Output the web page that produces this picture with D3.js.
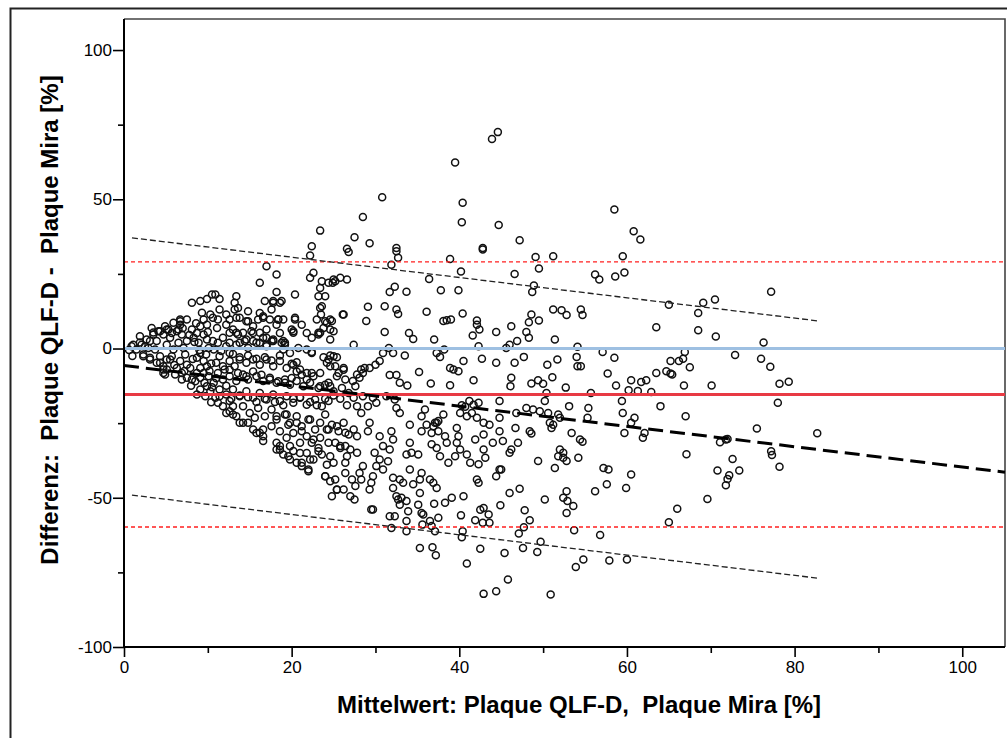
<!DOCTYPE html>
<html>
<head>
<meta charset="utf-8">
<script src="https://cdn.jsdelivr.net/npm/d3@7/dist/d3.min.js"></script>
<style>
  body { margin: 0; background: #fff; }
  text { font-family: "Liberation Sans", Arial, sans-serif; fill: #000; }
</style>
</head>
<body>
<div id="chart"></div>
<script>
// [mean, difference] pairs
var upperPts = [[44.6,72.5],[43.9,70.2],[39.5,62.3],[30.8,50.7],[40.4,48.8],[40.3,42.3],[44.7,41.4],[28.5,44.1],
  [27.5,37.3],[29.3,35.3],[32.5,33.7],[42.8,33.7],[47.2,36.3],[58.5,46.6],[60.8,39.3],[61.6,36.5],[26.6,33.4],
  [23.4,39.5],[22.4,34.3]];

var rightPts = [[65.0,14.7],[69.1,15.3],[70.5,16.4],[68.5,11.9],[77.2,19.0],[68.5,6.1],[70.6,4.0],[76.3,2.0],
  [66.9,-1.2],[72.9,-2.2],[76.0,-3.4],[77.1,-6.1],[65.2,-4.2],[66.2,-4.2],[66.7,-3.4],[67.5,-6.3],[65.2,-8.4],
  [65.4,-8.7],[66.8,-12.4],[70.1,-12.4],[78.2,-11.8],[79.3,-11.1],[78.0,-18.2],[67.0,-22.7],[75.5,-26.8],
  [82.7,-28.4],[71.1,-31.4],[72.0,-30.3],[71.8,-30.5],[77.2,-34.4],[77.3,-35.7],[67.1,-35.4],[72.6,-37.0],
  [70.8,-40.9],[73.4,-40.9],[72.2,-42.5],[72.0,-43.7],[71.8,-45.8],[78.2,-39.6],[69.6,-50.4],[66.0,-53.7],[65.0,-58.2]];

var midPts = [[26.8,32.3],[32.7,30.4],[32.5,32.6],[31.9,28.1],[38.9,30.0],[49.1,30.7],[51.2,30.9],[59.5,30.9],[42.8,33.2],
  [25.0,23.1],[25.8,23.7],[26.6,23.1],[24.9,22.0],[36.4,23.3],[40.2,25.8],[46.6,25.0],[49.5,26.8],[56.2,24.8],[56.7,23.1],
  [58.6,24.1],[59.7,25.5],[48.9,21.1],[48.7,18.9],[32.3,20.7],[31.7,18.9],[33.7,19.0],[37.8,19.5],[39.9,19.5],
  [29.1,14.0],[28.9,9.2],[26.1,11.4],[24.8,9.2],[31.1,14.2],[32.5,13.1],[32.7,11.6],[36.1,12.3],[40.4,11.7],
  [38.1,9.2],[38.5,9.5],[39.0,9.7],[42.1,9.4],[42.1,8.0],[42.4,6.4],[34.0,5.2],[34.5,3.2],[31.1,5.5],[41.6,4.4],
  [37.0,3.0],[44.4,5.5],[46.2,7.5],[48.0,5.5],[48.3,3.6],[48.6,11.4],[48.3,8.8],[49.5,9.4],[51.2,13.1],[52.2,12.8],
  [52.8,11.2],[54.5,13.1],[54.7,11.2],[46.9,2.5],[51.4,3.0],[63.5,7.1],
  [27.4,1.3],[31.6,0.2],[30.9,-1.5],[32.1,-1.5],[25.0,-2.6],[24.6,-5.9],[33.5,-2.3],[37.3,-1.5],[37.7,-2.8],[38.2,-0.3],
  [42.3,0.8],[42.7,-3.4],[40.5,-4.2],[44.4,-4.8],[45.6,0.2],[46.0,1.3],[46.6,-4.8],[47.7,-2.8],[50.5,-5.4],[51.7,-3.7],
  [54.1,0.6],[54.0,-2.8],[54.1,-5.9],[54.5,-5.9],[57.1,-1.2],[58.5,-3.1],[63.5,-8.2],[64.7,-7.6],
  [25.2,-5.9],[26.2,-6.5],[25.6,-8.2],[28.7,-6.5],[28.5,-8.2],[28.1,-9.8],[30.5,-4.2],[30.0,-5.4],[29.3,-6.5],
  [31.7,-8.9],[32.5,-8.9],[32.9,-11.5],[33.8,-12.4],[35.2,-7.9],[36.6,-11.7],[38.9,-6.5],[39.3,-7.0],[39.9,-7.6],
  [38.9,-12.3],[41.7,-10.6],[46.2,-9.8],[46.1,-12.6],[48.6,-11.7],[49.4,-10.6],[50.0,-11.8],[51.1,-9.6],[52.7,-13.1],
  [57.7,-8.4],[58.7,-12.4],[60.5,-10.6],[61.7,-11.2],[62.3,-10.6],[60.2,-14.0],[61.3,-14.2],[62.9,-14.6],[55.7,-14.9],
  [50.4,-14.9],[24.6,-12.6],[25.0,-14.3],[26.0,-13.2],[26.8,-14.9],[27.6,-12.6],[26.4,-10.4],[27.3,-10.9],[27.8,-8.7],[28.3,-7.0],
  [27.4,-16.5],[28.5,-16.0],[29.7,-16.5],[31.3,-16.0],[32.3,-17.1],[27.8,-19.3],[28.3,-21.6],[29.1,-19.3],[30.1,-18.2],
  [32.9,-21.6],[32.5,-19.9],[34.1,-25.5],[35.5,-22.7],[35.9,-20.4],[37.1,-24.9],[37.5,-24.3],[38.1,-22.1],[36.9,-26.0],
  [40.3,-19.0],[40.7,-19.5],[41.2,-17.6],[41.7,-18.8],[42.3,-18.2],[41.5,-21.6],[40.1,-21.6],[40.9,-22.7],[42.1,-23.2],
  [42.9,-24.9],[44.8,-17.6],[44.8,-23.2],[43.6,-25.5],[46.8,-21.6],[48.0,-19.9],[48.8,-20.4],[49.6,-21.0],[50.6,-21.6],
  [51.8,-22.1],[50.2,-17.6],[53.1,-19.3],[55.4,-19.9],[50.8,-24.9],[51.0,-26.6],[51.2,-25.5],[52.0,-23.2],[55.3,-23.2],
  [59.4,-17.6],[59.5,-21.6],[60.9,-23.2],[60.5,-24.9],[62.1,-28.3],[61.9,-29.9],[59.7,-28.3],[64.0,-19.3],[46.7,-26.6],
  [48.4,-27.7],[48.6,-28.5],[44.8,-27.7],[53.4,-28.3],[54.4,-30.5],[54.7,-31.2],
  [24.8,-25.5],[25.6,-27.7],[26.2,-24.9],[26.8,-28.8],[27.8,-29.4],[27.4,-27.1],[25.2,-31.6],[25.8,-33.3],[26.4,-32.7],
  [27.0,-33.8],[27.8,-34.9],[26.6,-36.1],[29.3,-24.9],[29.1,-27.7],[30.5,-29.4],[31.9,-27.7],[32.1,-30.5],[30.9,-32.7],
  [31.7,-33.8],[29.9,-34.9],[30.5,-37.2],[31.5,-37.8],[34.1,-31.6],[34.3,-34.9],[35.1,-35.5],[33.7,-35.5],[35.5,-27.7],
  [36.1,-25.5],[36.7,-28.3],[37.3,-24.9],[37.5,-27.7],[38.3,-29.4],[38.5,-31.6],[36.7,-32.1],[37.3,-33.3],[37.7,-36.1],
  [38.7,-38.3],[39.7,-26.6],[39.9,-29.4],[39.7,-31.6],[40.1,-33.8],[39.5,-36.1],[40.9,-35.5],[41.3,-38.3],[41.9,-30.5],
  [42.9,-28.8],[42.9,-33.8],[43.1,-36.6],[42.3,-38.8],[44.0,-31.6],[45.2,-31.0],[46.0,-34.9],[46.2,-33.8],[45.0,-40.5],
  [47.0,-31.6],[49.4,-37.7],[51.4,-40.0],[52.0,-33.8],[52.4,-34.9],[51.8,-36.1],[52.4,-36.6],[52.8,-37.7],[54.2,-36.6],
  [57.2,-40.0],[57.8,-40.5],[60.5,-42.2],[57.6,-45.5],[59.9,-46.7],[56.2,-47.8],[52.8,-47.8],[52.4,-50.0],[46.0,-48.4],
  [47.2,-47.0],[44.4,-42.8],[44.8,-40.5],[42.1,-43.9],[42.3,-45.0],[40.5,-49.5],[39.1,-50.0],[36.9,-45.0],[37.3,-46.7],
  [36.5,-43.9],[35.5,-41.7],[35.3,-43.9],[34.1,-40.5],[34.5,-45.5],[35.3,-48.4],[32.1,-43.3],[32.9,-43.9],[33.3,-45.0],
  [32.1,-46.7],[32.5,-49.5],[33.1,-50.0],[29.7,-42.8],[29.5,-45.0],[29.3,-47.2],[28.3,-43.9],[27.6,-46.1],[27.2,-43.9],
  [25.0,-38.3],[25.2,-43.9],[25.4,-47.2],[26.2,-47.2],[27.0,-49.5],[24.8,-49.5],[30.1,-39.4],[30.9,-40.5],[28.5,-39.4],[28.1,-41.7]];

var lowerPts = [[27.5,-50.6],[29.5,-53.9],[29.7,-53.9],[31.7,-56.2],[32.3,-56.2],[31.9,-60.1],[32.9,-52.3],[33.7,-51.1],
  [33.9,-54.5],[32.7,-50.6],[33.7,-57.8],[33.7,-61.2],[35.1,-52.3],[35.5,-55.1],[35.7,-55.6],[35.6,-59.0],[36.5,-57.8],
  [36.7,-59.5],[37.1,-61.2],[37.0,-52.0],[38.3,-51.7],[37.5,-56.7],[35.3,-66.8],[36.8,-66.6],[37.2,-69.3],[40.2,-55.9],
  [40.4,-61.2],[40.3,-63.2],[40.9,-72.0],[41.9,-57.5],[42.5,-54.0],[42.9,-53.4],[42.8,-58.4],[43.5,-55.6],[43.6,-58.4],
  [42.5,-67.1],[42.9,-82.2],[44.4,-81.3],[45.8,-77.4],[44.9,-52.5],[45.4,-68.5],[47.8,-54.2],[48.4,-57.5],[47.7,-59.9],
  [47.1,-62.0],[47.6,-66.8],[49.3,-68.2],[49.7,-64.7],[50.9,-82.4],[52.8,-55.1],[53.6,-52.8],[52.9,-51.1],[53.7,-60.9],
  [53.9,-73.2],[54.8,-70.7],[56.8,-62.5],[57.9,-71.0],[60.0,-70.7],[50.2,-50.6]];

var leftPts = [[0.6,-0.5],[1.0,-2.5],[0.9,0.8],[1.5,-0.3],[2.1,1.3],[2.7,3.0],[2.9,0.2],[2.3,-2.0],[3.1,-3.1],[3.5,4.7],
  [3.9,2.5],[3.7,-0.3],[4.3,-4.8],[4.7,-7.0],[4.9,-8.7],[4.1,5.8],[4.7,4.7],[5.3,6.4],[5.5,3.6],[5.1,1.3],[5.9,-0.3],
  [5.7,-2.6],[5.1,-3.7],[6.7,9.7],[6.7,9.1],[6.3,5.8],[6.9,4.7],[6.5,1.9],[7.1,0.2],[7.5,2.5],[7.3,-2.0],[6.7,-4.2],
  [6.3,-6.5],[6.1,-8.7],[6.9,-8.2],[7.5,-5.4],[8.1,6.4],[8.7,5.2],[8.3,3.6],[9.1,7.5],[9.5,4.7],[8.9,1.9],[9.9,3.0],
  [10.1,0.2],[9.1,-1.5],[8.7,-3.1],[9.5,-4.2],[9.9,-5.9],[9.1,-6.5],[8.7,-8.2],[9.1,-9.8],[9.5,-8.2],[8.1,-10.4],
  [7.5,-9.8],[6.9,-10.4],[10.1,-9.3],[10.7,-11.5],[9.9,-12.6],[9.1,-13.7],[8.7,-15.4],[9.7,-16.0],[10.3,-14.3],
  [10.9,-16.5],[11.2,-18.2],[11.8,-19.3],[12.2,-21.6],[12.6,-21.0],[13.0,-19.3],[13.4,-22.7],[13.8,-24.9],[14.8,-24.9],
  [15.4,-27.1],[15.8,-28.3],[16.6,-29.4],[16.6,-31.0],[18.2,-33.8],[18.6,-32.7],[19.0,-35.5],[19.8,-37.2],[20.6,-38.3],
  [21.2,-39.4],[22.0,-40.5],[20.2,-34.3],[21.0,-31.6],[21.8,-29.4],[23.2,-33.3],[23.6,-35.5],[24.2,-38.9],[24.0,-42.8],
  [10.7,-0.3],[11.2,1.9],[11.8,3.6],[12.2,0.8],[12.6,-1.5],[13.0,6.4],[13.6,4.7],[13.8,1.9],[14.6,3.0],[14.8,0.2],
  [15.4,5.2],[15.8,1.9],[16.6,3.6],[17.0,0.8],[17.8,2.5],[18.6,5.2],[19.2,1.9],[19.0,-0.3],[19.8,-1.5],[20.8,0.2],
  [21.8,-0.3],[22.4,-1.5],[24.4,-3.7],[24.2,-4.8],[11.4,-2.6],[11.0,-4.8],[11.8,-5.9],[12.6,-4.2],[13.2,-5.9],[13.8,-3.7],
  [14.6,-4.8],[15.4,-3.7],[16.2,-5.4],[17.0,-3.7],[17.8,-5.9],[18.6,-4.2],[19.4,-6.5],[20.2,-5.4],[21.0,-7.0],[21.8,-8.2],
  [22.6,-9.3],[23.4,-8.2],[11.2,-8.2],[11.8,-10.4],[12.6,-9.3],[13.4,-10.9],[14.2,-8.7],[14.8,-10.4],[15.8,-9.3],
  [16.6,-10.9],[17.4,-9.8],[18.2,-11.5],[19.2,-10.4],[19.8,-12.1],[20.6,-10.9],[21.4,-12.6],[22.2,-11.5],[23.2,-13.2],
  [24.0,-12.1],[11.4,-13.7],[12.2,-15.4],[13.0,-13.7],[13.8,-16.0],[14.6,-14.3],[15.4,-16.5],[16.2,-14.9],[17.0,-17.1],
  [17.8,-15.4],[18.6,-17.6],[19.4,-16.0],[20.2,-18.2],[21.0,-16.5],[21.8,-18.8],[22.8,-17.1],[23.6,-19.3],[24.4,-17.6],
  [12.6,-17.6],[14.2,-19.3],[15.0,-21.6],[16.0,-19.9],[16.8,-22.7],[17.6,-20.4],[18.2,-23.8],[19.2,-22.1],[19.8,-24.9],
  [20.6,-22.7],[21.2,-26.0],[22.0,-23.8],[22.8,-27.1],[23.4,-24.9],[24.4,-27.1],[17.6,-26.0],[18.6,-27.7],[19.4,-29.9],
  [20.2,-28.3],[22.4,-31.6],[23.4,-29.9],[24.4,-31.6],[21.8,-35.0],[22.6,-37.2],
  [11.1,6.9],[12.2,8.0],[15.4,7.5],[17.0,6.4],[18.2,8.0],[21.2,8.0],[21.8,5.2],[22.4,3.6],[24.6,3.0],[25.0,5.8],
  [16.2,11.9],[14.8,12.5],[11.4,13.1],[12.2,11.4],[7.5,9.7],[5.9,8.6],[4.9,7.5],[3.3,6.9],[1.9,4.1],
  [22.2,31.2],[17.0,27.6],[18.2,24.8],[16.2,22.0],[22.6,25.4],[22.2,23.7],[23.6,22.5],[24.4,22.0],[25.2,22.5],[23.4,20.3],
  [18.2,18.9],[20.4,18.1],[23.2,17.5],[24.0,17.5],[10.5,18.1],[9.9,16.6],[9.1,15.9],[8.1,15.3],[11.4,16.6],[13.4,17.5],
  [13.2,15.3],[13.6,13.6],[13.2,13.1],[16.8,15.9],[17.8,15.9],[18.8,15.9],[17.6,13.1],[23.4,13.6],[23.5,11.4],
  [9.3,12.0],[10.3,11.4],[10.6,10.3],[11.2,9.7],[9.5,9.7],[9.9,8.0],[12.6,9.7],[13.8,10.3],[14.8,9.1],[16.0,9.7],
  [16.6,10.8],[17.4,9.7],[18.4,9.7],[19.0,9.7],[20.4,9.7],[23.0,9.7],[24.0,9.1],[24.6,9.7],[20.0,6.4],[20.2,5.3],
  [23.8,6.9],[23.4,5.3],[23.2,4.7]];

// extra points in the crowded core of the cloud
var densePts = [[10.9,18.1],[6.7,8.0],[6.5,6.4],[3.5,5.4],[4.3,5.8],[5.1,6.4],[5.7,5.2],[1.1,1.3],[1.9,2.0],[2.5,0.8],
  [3.1,2.5],[2.3,-2.6],[3.1,-3.7],[3.9,-4.8],[4.7,-5.9],[4.3,-2.6],[5.5,-3.7],[5.1,-7.0],[4.7,-8.2],
  [7.8,4.5],[8.4,2.2],[9.0,-0.5],[9.8,-2.0],[8.2,-3.5],[10.4,-5.0],[7.9,-6.5],[10.2,-7.5],[8.5,-11.0],[9.6,-11.5],
  [10.5,-13.0],[8.0,-12.5],[7.2,-7.5],[6.0,-5.5],[10.6,2.5],[10.0,5.5],[8.6,8.5],[7.0,6.8],[11.6,-0.8],[12.0,-7.0],
  [11.0,-10.0],[12.2,-12.5],[11.4,-16.0],[10.4,-18.0],
  [17.8,15.3],[18.6,15.3],[13.4,10.3],[14.6,9.1],[16.6,10.3],[18.4,9.7],[23.6,14.2],[26.2,11.4],[24.2,8.6],[24.6,6.4],
  [23.2,5.3],[12.6,5.3],[13.4,5.3],[14.2,5.3],[15.2,5.8],[16.2,5.3],[17.0,3.6],[17.8,3.0],[19.0,2.5],[20.2,5.8],[20.4,10.3],
  [12.6,1.9],[13.4,1.3],[14.4,2.5],[15.4,2.5],[16.2,1.9],[17.0,1.3],[17.6,2.5],[18.8,1.9],[19.2,1.3],
  [13.0,-1.8],[13.8,-2.9],[14.8,-2.3],[15.8,-3.4],[16.8,-2.9],[17.6,-4.0],[18.6,-2.3],[20.0,-5.1],[20.6,-4.6],[22.4,-1.2],
  [23.8,-2.9],[24.6,-2.3],[25.4,-2.9],
  [12.6,-7.1],[13.6,-8.2],[14.6,-9.3],[15.4,-7.7],[16.4,-8.8],[17.4,-10.4],[18.4,-11.0],[19.2,-11.5],[20.0,-9.9],[20.6,-7.7],
  [21.2,-8.8],[21.8,-10.4],[22.4,-8.2],[23.4,-12.6],[24.4,-11.5],[25.4,-9.3],[26.2,-7.1],
  [12.8,-16.8],[13.8,-15.7],[14.8,-16.3],[15.8,-17.9],[16.8,-16.8],[18.0,-17.9],[19.0,-19.0],[20.2,-16.8],[21.0,-16.3],
  [22.2,-17.9],[23.0,-19.0],[24.0,-16.8],[25.0,-15.7],[25.8,-16.8],[26.6,-19.0],
  [13.0,-22.1],[14.2,-24.9],[15.6,-23.2],[16.6,-27.1],[16.2,-28.2],[18.2,-22.7],[19.4,-22.1],[19.6,-25.5],[20.6,-24.9],
  [21.2,-27.7],[22.2,-23.8],[22.6,-30.5],[24.0,-22.1],[24.2,-27.1],[25.4,-26.0],[26.4,-28.2],
  [18.2,-31.6],[18.6,-33.9],[19.8,-32.7],[19.6,-36.1],[21.0,-35.0],[21.2,-38.3],[22.2,-37.2],[23.2,-34.4],[24.6,-36.1],
  [25.8,-32.7],[26.4,-38.3],[22.0,-41.1],[24.0,-42.8],[24.6,-44.5],[25.4,-47.3],[26.4,-41.7]];

// reference lines
var meanDiff = -15.4;
var agreeLimits = [29.0, -59.8];
var regIntercept = -5.7, regSlope = -0.34, regHalfWidth = 43.1;
var regRange = [0.95, 82.9];

var yMajor = [-100, -50, 0, 50, 100], yMinor = [-75, -25, 25, 75];
var xMajor = [0, 20, 40, 60, 80, 100], xMinor = [10, 30, 50, 70, 90];

var xTitle = "Mittelwert: Plaque QLF-D,  Plaque Mira [%]";
var yTitle = "Differenz:  Plaque QLF-D -  Plaque Mira [%]";

var W = 1007, H = 738;
var plot = {left: 124, right: 1005, top: 19, bottom: 647};

var x = d3.scaleLinear().domain([0, 105.1]).range([plot.left, plot.right]);
var y = d3.scaleLinear().domain([-100, 110.4]).range([plot.bottom, plot.top]);

var svg = d3.select("#chart").append("svg")
    .attr("width", W).attr("height", H);

svg.append("rect").attr("width", W).attr("height", H).attr("fill", "#fff");

// outer frame (only left and top visible)
svg.append("path")
    .attr("d", "M10.5," + H + "V8.5H" + W)
    .attr("fill", "none").attr("stroke", "#222").attr("stroke-width", 2);

// plot frame
svg.append("path")
    .attr("d", "M" + plot.left + "," + plot.top + "H" + plot.right + "V" + plot.bottom)
    .attr("fill", "none").attr("stroke", "#444").attr("stroke-width", 1.6);

var allPts = leftPts.concat(densePts, midPts, rightPts, upperPts, lowerPts);

svg.append("g").attr("class", "points")
  .selectAll("circle")
    .data(allPts)
  .enter().append("circle")
    .attr("cx", function(d) { return x(d[0]); })
    .attr("cy", function(d) { return y(d[1]); })
    .attr("r", 3.5)
    .attr("fill", "none")
    .attr("stroke", "#111")
    .attr("stroke-width", 1.5);

var lines = svg.append("g").attr("class", "reflines");

// zero line
lines.append("line")
    .attr("x1", x(0)).attr("x2", plot.right)
    .attr("y1", y(0)).attr("y2", y(0))
    .attr("stroke", "#9ec0e2").attr("stroke-width", 3);

// mean difference
lines.append("line")
    .attr("x1", x(0)).attr("x2", plot.right)
    .attr("y1", y(meanDiff)).attr("y2", y(meanDiff))
    .attr("stroke", "#e83a44").attr("stroke-width", 3);

// limits of agreement
lines.selectAll(".loa")
    .data(agreeLimits)
  .enter().append("line")
    .attr("class", "loa")
    .attr("x1", x(0)).attr("x2", plot.right)
    .attr("y1", function(d) { return y(d); }).attr("y2", function(d) { return y(d); })
    .attr("stroke", "#ff1f1f").attr("stroke-width", 1.3)
    .attr("stroke-dasharray", "4,3");

// regression of difference on mean
var xEnd = x.domain()[1];
lines.append("line")
    .attr("x1", x(0)).attr("y1", y(regIntercept))
    .attr("x2", x(xEnd)).attr("y2", y(regIntercept + regSlope * xEnd))
    .attr("stroke", "#000").attr("stroke-width", 3)
    .attr("stroke-dasharray", "15,7");

lines.selectAll(".regLim")
    .data([regHalfWidth, -regHalfWidth])
  .enter().append("line")
    .attr("class", "regLim")
    .attr("x1", x(regRange[0])).attr("y1", function(d) { return y(regIntercept + d + regSlope * regRange[0]); })
    .attr("x2", x(regRange[1])).attr("y2", function(d) { return y(regIntercept + d + regSlope * regRange[1]); })
    .attr("stroke", "#222").attr("stroke-width", 1.3)
    .attr("stroke-dasharray", "6,3");

// axes
var fmt = function(d) { return String(d); };   // plain hyphen minus like the original
var yAxis = svg.append("g").attr("transform", "translate(" + plot.left + ",0)");
yAxis.call(d3.axisLeft(y).tickValues(yMajor).tickSize(11).tickFormat(fmt));
yAxis.append("g").call(d3.axisLeft(y).tickValues(yMinor).tickSize(6).tickFormat(""));

var xAxis = svg.append("g").attr("transform", "translate(0," + plot.bottom + ")");
xAxis.call(d3.axisBottom(x).tickValues(xMajor).tickSize(10).tickFormat(fmt));
xAxis.append("g").call(d3.axisBottom(x).tickValues(xMinor).tickSize(6).tickFormat(""));

svg.selectAll(".domain").remove();
svg.selectAll(".tick line").attr("stroke", "#000").attr("stroke-width", 1.6);
svg.selectAll(".tick text")
    .style("font-family", "'Liberation Sans', Arial, sans-serif")
    .style("font-size", "17px").attr("fill", "#111");
yAxis.selectAll(".tick text").attr("x", -12);
xAxis.selectAll(".tick text").attr("y", 14);

svg.append("line")
    .attr("x1", plot.left).attr("x2", plot.left)
    .attr("y1", plot.top).attr("y2", plot.bottom + 1)
    .attr("stroke", "#000").attr("stroke-width", 2);
svg.append("line")
    .attr("x1", plot.left - 1).attr("x2", plot.right)
    .attr("y1", plot.bottom).attr("y2", plot.bottom)
    .attr("stroke", "#000").attr("stroke-width", 2);

// axis titles
svg.append("text")
    .attr("x", 579).attr("y", 713)
    .attr("text-anchor", "middle")
    .style("white-space", "pre")
    .style("font-size", "24px").style("font-weight", "bold")
    .text(xTitle);

svg.append("text")
    .attr("transform", "translate(58,320) rotate(-90)")
    .attr("text-anchor", "middle")
    .style("white-space", "pre")
    .style("font-size", "24px").style("font-weight", "bold")
    .text(yTitle);
</script>
</body>
</html>
